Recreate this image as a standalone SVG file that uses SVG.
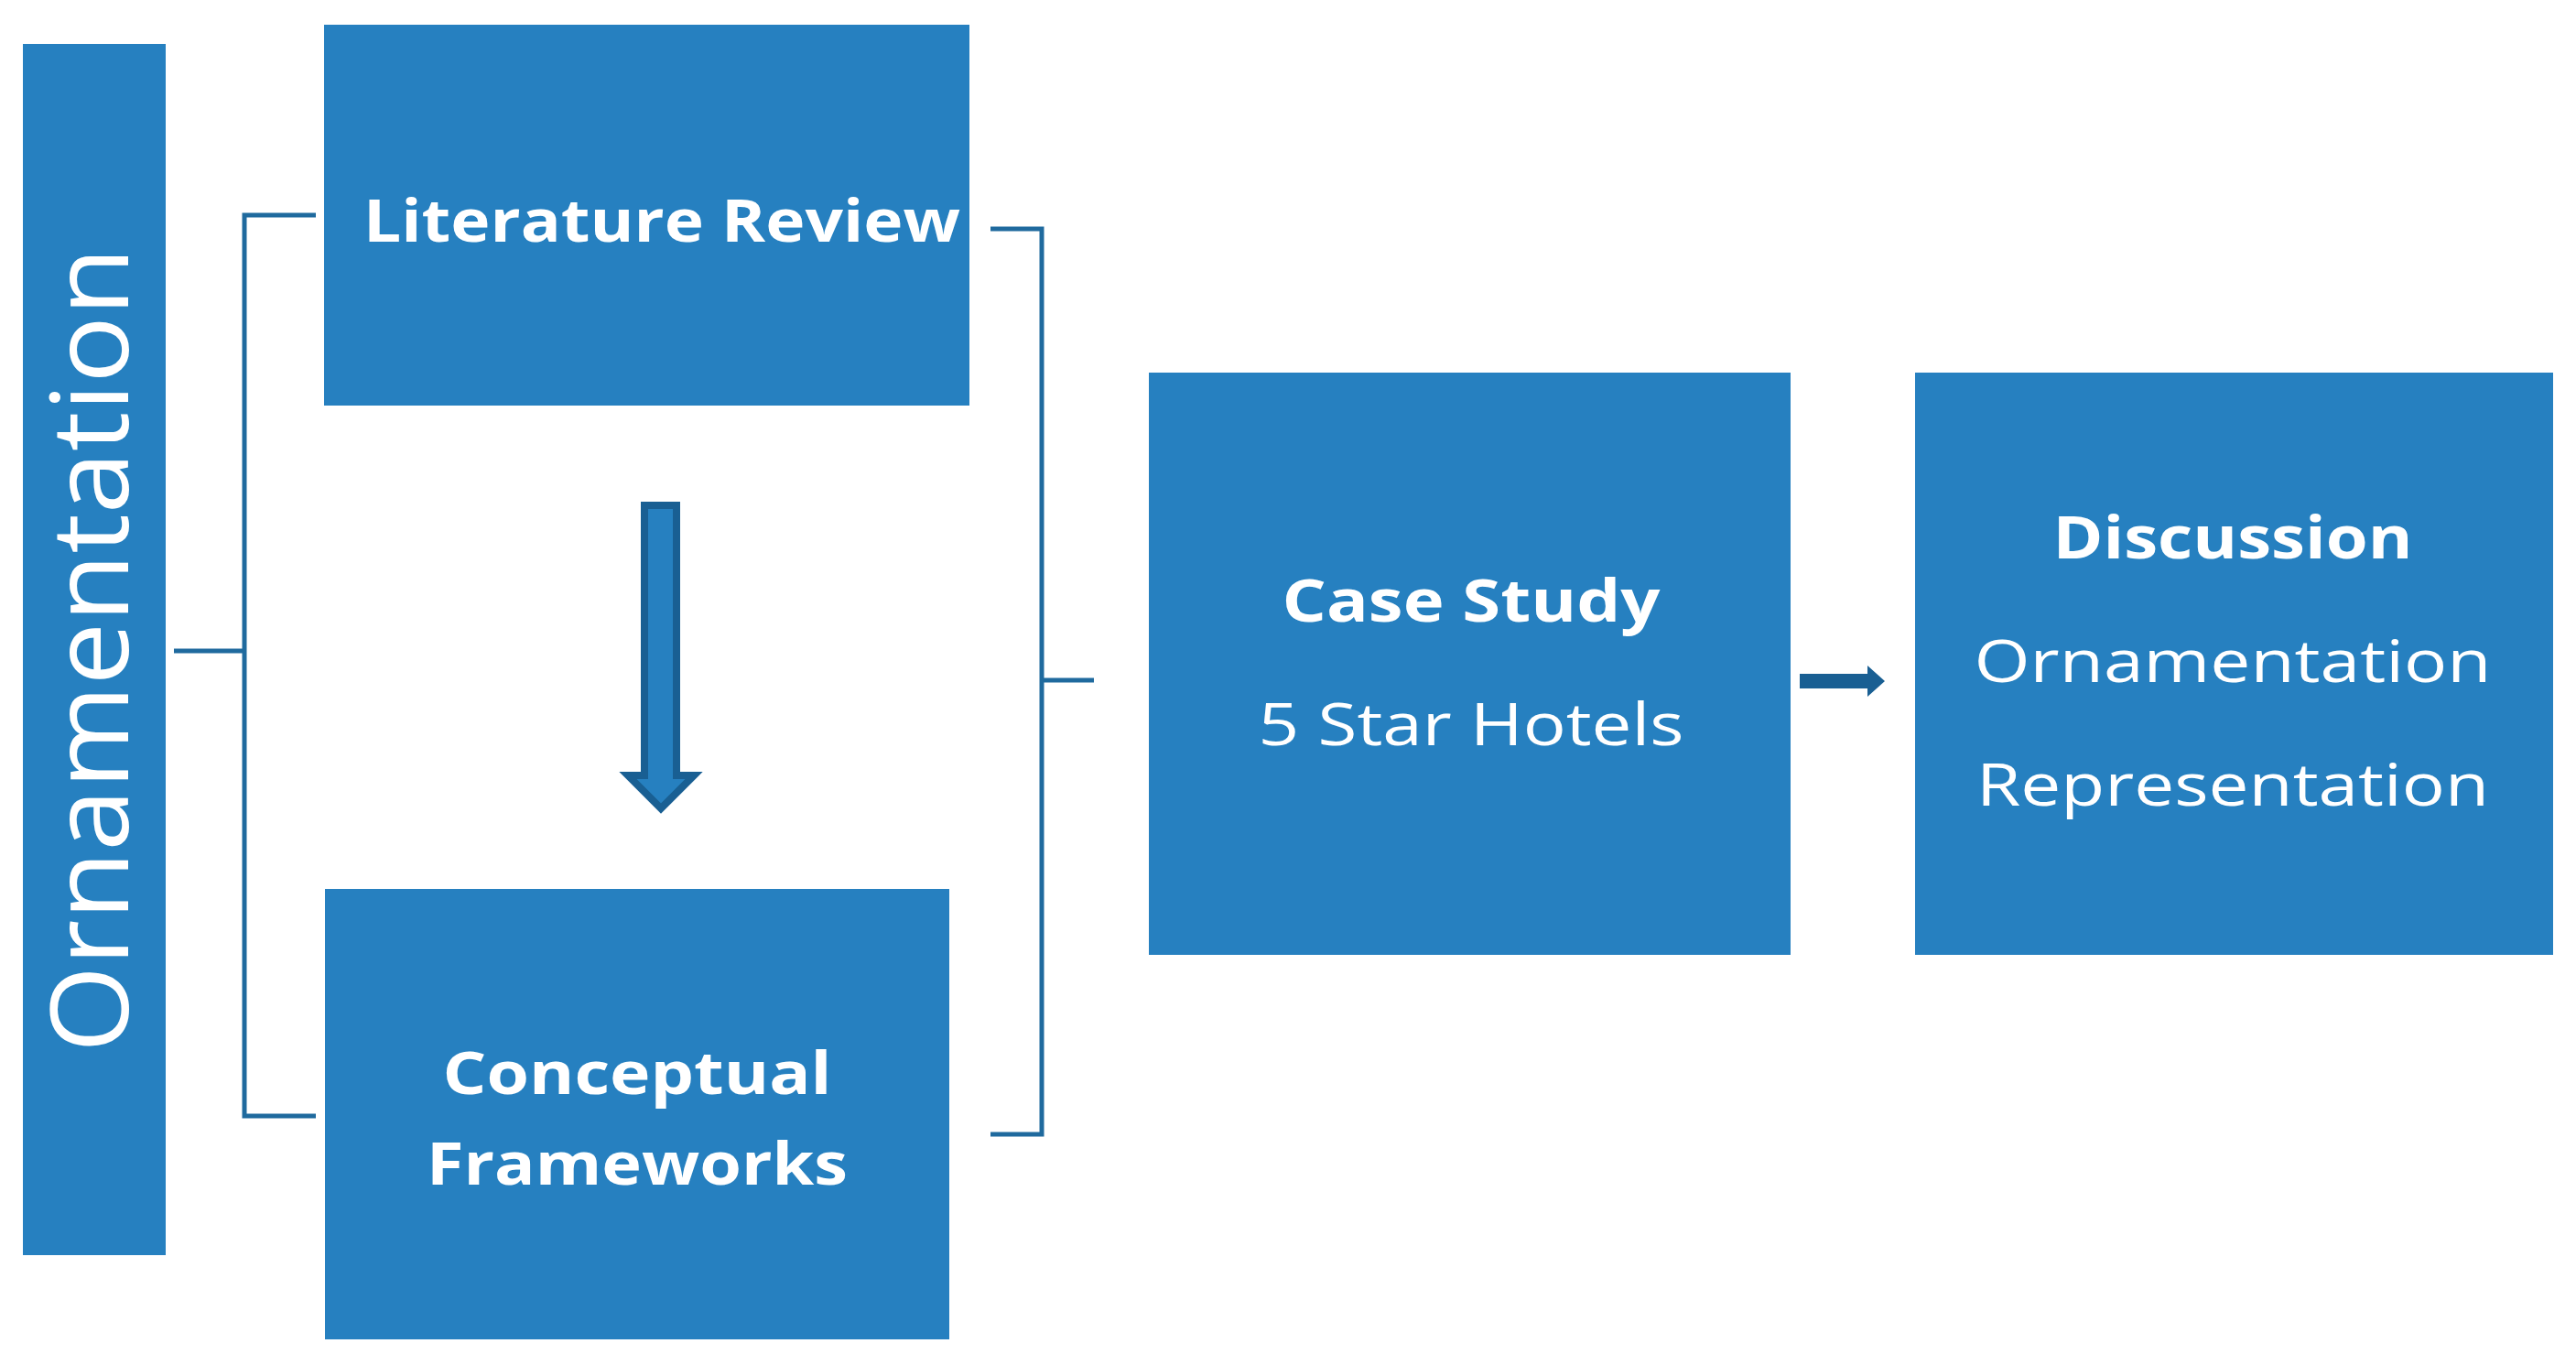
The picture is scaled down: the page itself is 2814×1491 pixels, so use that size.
<svg xmlns="http://www.w3.org/2000/svg" width="2814" height="1491" viewBox="0 0 2814 1491">
<style>
.box{fill:#2680C0}
.ln{fill:none;stroke:#1F6A9E;stroke-width:5}
text{fill:#fff;font-family:"Open Sans","Liberation Sans",sans-serif;text-anchor:middle}
.b{font-weight:bold;font-size:64px}
.r{font-size:64px}
</style>
<rect width="2814" height="1491" fill="#fff"/>
<g id="connectors">
<path class="ln" d="M345,235H267V1219H345M190,711H267"/>
<path class="ln" d="M1082,250H1138V1239H1082M1138,743H1195"/>
<path d="M704,552H739V847H758L722,883L686,847H704Z" fill="#2680C0" stroke="#195F93" stroke-width="8"/>
<path d="M1966,736H2040V727L2059,744L2040,761V752H1966Z" fill="#195F93"/>
</g>
<g id="ornamentation"><rect class="box" x="25" y="48" width="156" height="1323"/>
<text transform="translate(140,710) rotate(-90)" font-size="118" textLength="880" lengthAdjust="spacingAndGlyphs">Ornamentation</text></g>
<g id="literature"><rect class="box" x="354" y="27" width="705" height="416"/>
<text class="b" x="723" y="264" textLength="652" lengthAdjust="spacingAndGlyphs">Literature Review</text></g>
<g id="conceptual"><rect class="box" x="355" y="971" width="682" height="492"/>
<text class="b" x="696" y="1195" textLength="425" lengthAdjust="spacingAndGlyphs">Conceptual</text>
<text class="b" x="696" y="1294" textLength="460" lengthAdjust="spacingAndGlyphs">Frameworks</text></g>
<g id="casestudy"><rect class="box" x="1255" y="407" width="701" height="636"/>
<text class="b" x="1607" y="679" textLength="413" lengthAdjust="spacingAndGlyphs">Case Study</text>
<text class="r" x="1607" y="814" textLength="465" lengthAdjust="spacingAndGlyphs">5 Star Hotels</text></g>
<g id="discussion"><rect class="box" x="2092" y="407" width="697" height="636"/>
<text class="b" x="2439" y="610" textLength="393" lengthAdjust="spacingAndGlyphs">Discussion</text>
<text class="r" x="2439" y="745" textLength="565" lengthAdjust="spacingAndGlyphs">Ornamentation</text>
<text class="r" x="2439" y="880" textLength="560" lengthAdjust="spacingAndGlyphs">Representation</text></g>
</svg>
